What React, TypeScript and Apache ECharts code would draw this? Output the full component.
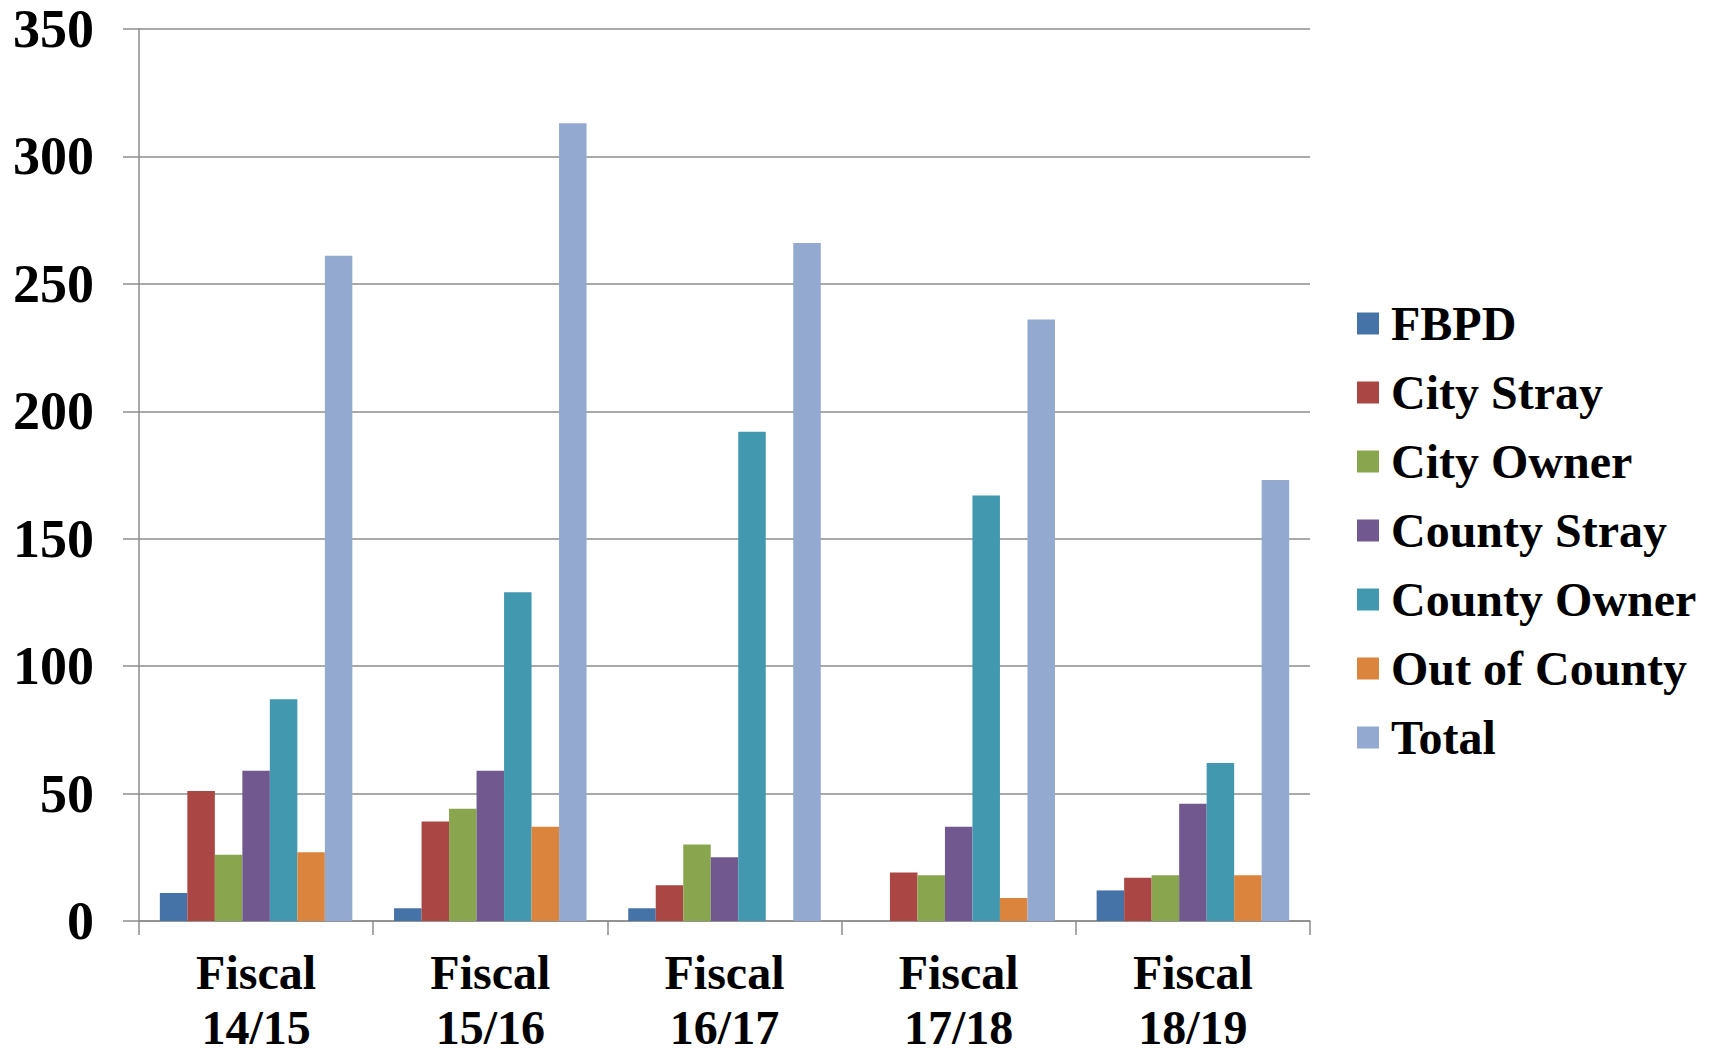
import React, { useEffect, useRef } from "react";
import * as echarts from "echarts";

const categories = ["Fiscal 14/15", "Fiscal 15/16", "Fiscal 16/17", "Fiscal 17/18", "Fiscal 18/19"];
const seriesNames = ["FBPD", "City Stray", "City Owner", "County Stray", "County Owner", "Out of County", "Total"];
const fbpd = [11, 5, 5, 0, 12];
const cityStray = [51, 39, 14, 19, 17];
const cityOwner = [26, 44, 30, 18, 18];
const countyStray = [59, 59, 25, 37, 46];
const countyOwner = [87, 129, 192, 167, 62];
const outOfCounty = [27, 37, 0, 9, 18];
const total = [261, 313, 266, 236, 173];
const colors = ["#4572A7", "#AA4643", "#89A54E", "#71588F", "#4198AF", "#DB843D", "#93A9CF"];
const yTicks = { min: 0, max: 350, interval: 50 };

const FONT = '"Liberation Serif", "Times New Roman", Times, serif';

export default function App() {
  const ref = useRef<HTMLDivElement>(null);
  useEffect(() => {
    if (!ref.current) return;
    const chart = echarts.init(ref.current, null, { renderer: "svg" });
    const values = [fbpd, cityStray, cityOwner, countyStray, countyOwner, outOfCounty, total];
    const labelText = { fontFamily: FONT, fontWeight: "bold", fontSize: 48, color: "#000" };
    chart.setOption({
      animation: false,
      color: colors,
      grid: {
        left: 139,
        right: 407,
        top: 29,
        bottom: 130,
        containLabel: false,
        outerBoundsMode: "none",
      },
      legend: {
        orient: "vertical",
        left: 1352,
        top: 294,
        itemWidth: 22,
        itemHeight: 22,
        itemGap: 20,
        icon: "rect",
        data: seriesNames,
        textStyle: {
          fontFamily: FONT,
          fontWeight: "bold",
          fontSize: 48,
          lineHeight: 49,
          color: "#000",
          padding: [0, 0, 0, 7],
        },
      },
      xAxis: {
        type: "category",
        data: categories,
        axisLine: { show: true, lineStyle: { color: "#8C8C8C", width: 1.5 } },
        axisTick: { show: true, interval: 0, length: 14, lineStyle: { color: "#8C8C8C", width: 1.5 } },
        axisLabel: {
          ...labelText,
          interval: 0,
          hideOverlap: false,
          margin: 16,
          formatter: (v: string) => {
            const [a, b] = v.split(" ");
            return `{a|${a}}\n{b|${b}}`;
          },
          rich: {
            a: { ...labelText, lineHeight: 70 },
            b: { ...labelText, lineHeight: 40 },
          },
        },
      },
      yAxis: {
        type: "value",
        min: yTicks.min,
        max: yTicks.max,
        interval: yTicks.interval,
        axisLine: { show: true, lineStyle: { color: "#8C8C8C", width: 1.5 } },
        axisTick: { show: true, length: 16, lineStyle: { color: "#8C8C8C", width: 1.5 } },
        splitLine: { show: true, lineStyle: { color: "#8C8C8C", width: 1.5 } },
        axisLabel: {
          fontFamily: FONT,
          fontWeight: "bold",
          fontSize: 54,
          color: "#000",
          margin: 45,
        },
      },
      series: seriesNames.map((name, i) => ({
        name,
        type: "bar",
        data: values[i],
        barGap: "0%",
        barCategoryGap: "17.8%",
        itemStyle: { color: colors[i] },
      })),
    });
    return () => chart.dispose();
  }, []);
  return (
    <div
      ref={ref}
      style={{ position: "absolute", left: 0, top: 0, width: 1717, height: 1051, background: "#fff" }}
    />
  );
}
